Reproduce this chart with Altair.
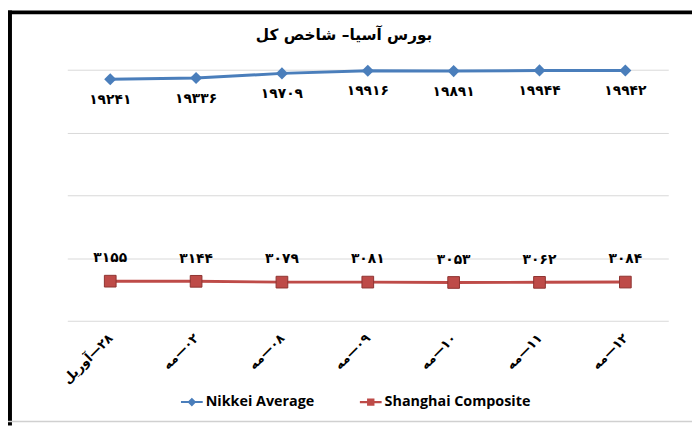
import altair as alt
import pandas as pd

# ---- data ----
dates = ["۲۸—آوریل", "۰۲—مه", "۰۸—مه", "۰۹—مه", "۱۰—مه", "۱۱—مه", "۱۲—مه"]
nikkei = [19241, 19336, 19709, 19916, 19891, 19944, 19942]
shanghai = [3155, 3144, 3079, 3081, 3053, 3062, 3084]
series_names = ["Nikkei Average", "Shanghai Composite"]
series_colors = ["#4A7EBB", "#BE4B48"]
y_ticks = [0, 5000, 10000, 15000, 20000]
title_text = "بورس آسیا– شاخص کل"

fa_digits = str.maketrans("0123456789", "۰۱۲۳۴۵۶۷۸۹")
rows = []
for d, n, s in zip(dates, nikkei, shanghai):
    rows.append({"date": d, "series": series_names[0], "value": n,
                 "label": str(n).translate(fa_digits)})
    rows.append({"date": d, "series": series_names[1], "value": s,
                 "label": str(s).translate(fa_digits)})
df = pd.DataFrame(rows)

FONT_FA = "DejaVu Sans"

x_enc = alt.X(
    "date:N", sort=dates, title=None,
    axis=alt.Axis(
        labelAngle=-45, labelAlign="right", labelBaseline="middle",
        labelPadding=15, domain=False, ticks=False, grid=False,
        labelFont=FONT_FA, labelFontWeight="bold", labelFontSize=13,
        labelColor="black",
        labelExpr="'\u200f' + datum.label",
    ),
)
y_enc = alt.Y(
    "value:Q", title=None,
    scale=alt.Scale(domain=[0, 20000], nice=False),
    axis=alt.Axis(values=y_ticks, labels=False, ticks=False, domain=False,
                  grid=True, gridColor="#D9D9D9", gridWidth=1),
)
color_scale = alt.Scale(domain=series_names, range=series_colors)

base = alt.Chart(df)
nk = base.transform_filter(alt.datum.series == series_names[0])
sh = base.transform_filter(alt.datum.series == series_names[1])

nk_line = nk.mark_line(strokeWidth=3, color=series_colors[0]).encode(x=x_enc, y=y_enc)
sh_line = sh.mark_line(strokeWidth=3, color=series_colors[1]).encode(x=x_enc, y=y_enc)

nk_points = nk.mark_point(shape="diamond", filled=True, size=150, opacity=1,
                          color=series_colors[0]).encode(x=x_enc, y=y_enc)
sh_points = sh.mark_point(shape="square", filled=True, size=140, opacity=1,
                          fill=series_colors[1], stroke="#8E3431", strokeWidth=1
                          ).encode(x=x_enc, y=y_enc)

nk_labels = nk.mark_text(dy=21, font=FONT_FA, fontWeight="bold", fontSize=14,
                         color="black").encode(x=x_enc, y=y_enc, text="label:N")
sh_labels = sh.mark_text(dy=-23, font=FONT_FA, fontWeight="bold", fontSize=14,
                         color="black").encode(x=x_enc, y=y_enc, text="label:N")

# invisible layer that only carries the legend (line + marker symbols)
legend_shapes = [
    "M-1,-0.09H1V0.09H-1Z M0,-0.4L0.4,0L0,0.4L-0.4,0Z",
    "M-1,-0.1H1V0.1H-1Z M-0.34,-0.34H0.34V0.34H-0.34Z",
]
leg = alt.Legend(orient="none", direction="horizontal",
                 legendX=115, legendY=325,
                 symbolSize=484, symbolStrokeWidth=0, symbolOpacity=1,
                 labelFont="Open Sans", labelFontSize=14.5,
                 labelFontWeight="bold", labelColor="black",
                 labelOffset=3, columnPadding=46)
legend_layer = base.mark_point(filled=True, size=0).encode(
    x=x_enc, y=y_enc,
    color=alt.Color("series:N", scale=color_scale, title=None, legend=leg),
    shape=alt.Shape("series:N", title=None, legend=leg,
                    scale=alt.Scale(domain=series_names, range=legend_shapes)),
)

frame_data = alt.Data(values=[{"k": 0}])
frame_left = alt.Chart(frame_data).mark_rule(color="black", strokeWidth=4).encode(
    x=alt.value(-58), y=alt.value(-60), y2=alt.value(360))
frame_top = alt.Chart(frame_data).mark_rule(color="black", strokeWidth=4).encode(
    x=alt.value(-60), x2=alt.value(640), y=alt.value(-58))
frame_bottom = alt.Chart(frame_data).mark_rule(color="#D0D0D0", strokeWidth=1.5).encode(
    x=alt.value(-60), x2=alt.value(640), y=alt.value(356))

chart = alt.layer(
    frame_left, frame_top, frame_bottom,
    nk_line, sh_line, nk_points, sh_points, nk_labels, sh_labels, legend_layer,
).properties(
    width=608, height=254,
    background="white",
    title=alt.TitleParams(title_text, font=FONT_FA, fontSize=15.5,
                          fontWeight="bold", color="black", anchor="middle",
                          dx=-24, offset=-35),
    autosize=alt.AutoSizeParams(type="none"),
    padding={"left": 60, "top": 60, "right": 24, "bottom": 104},
).configure_view(strokeWidth=0)

chart.save("out.html", embed_options={"renderer": "svg", "actions": False})
